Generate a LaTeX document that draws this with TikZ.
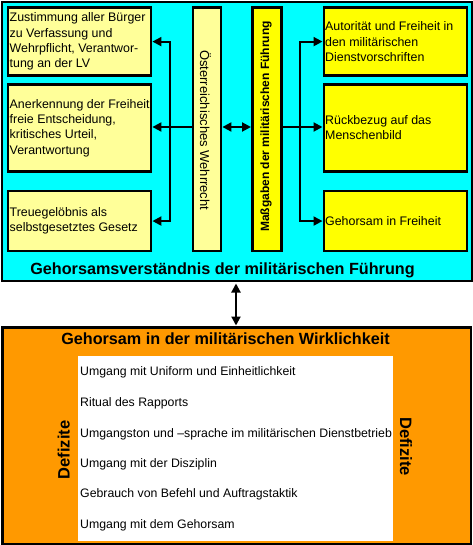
\documentclass[tikz,border=0pt]{standalone}
\usepackage{fontspec}
\setmainfont{Liberation Sans}
\usetikzlibrary{arrows.meta,calc}
\definecolor{cyanbg}{HTML}{00FFFF}
\definecolor{paleyel}{HTML}{FFFF99}
\definecolor{yel}{HTML}{FFFF00}
\definecolor{orng}{HTML}{FF9900}
\tikzset{
 panel/.style={draw=black, line width=2.2pt, inner sep=0pt, anchor=north west},
 lbox/.style={draw=black, line width=2.7pt, fill=paleyel, inner sep=0pt, anchor=north west},
 rbox/.style={lbox, fill=yel},
 btxt/.style={inner sep=0pt, anchor=west, align=left, font=\fontsize{12.4}{15.3}\selectfont},
 ttl/.style={inner sep=0pt, anchor=base, font=\fontsize{16.2}{18}\selectfont\bfseries},
 vtxt/.style={inner sep=0pt, anchor=west},
 deftxt/.style={inner sep=0pt, font=\fontsize{16.5}{18}\selectfont\bfseries},
 item/.style={inner sep=0pt, anchor=base west, font=\fontsize{12.3}{14}\selectfont},
 tip/.style={Triangle[length=9pt,width=9pt]},
 conn/.style={line width=2pt, -{Triangle[length=9pt,width=9pt]}},
 dconn/.style={line width=2pt, {Triangle[length=9pt,width=9pt]}-{Triangle[length=9pt,width=9pt]}},
 plain/.style={line width=2pt},
}
\begin{document}
\begin{tikzpicture}[x=1pt,y=-1pt]
\useasboundingbox (0,0) rectangle (472,545);
% panels
\node[panel, fill=cyanbg, minimum width=469.7pt, minimum height=278.7pt] (top) at (1,1) {};
\node[panel, fill=orng, minimum width=468.7pt, minimum height=217pt] (bot) at (1.3,326.3) {};
\node[inner sep=0pt, anchor=north west, fill=white, minimum width=315.3pt, minimum height=184.7pt] (wb) at (77.7,356) {};
% left boxes
\node[lbox, minimum width=143.2pt, minimum height=67.5pt] (l1) at (6.5,6.5) {};
\node[lbox, minimum width=143.2pt, minimum height=87pt] (l2) at (6.5,83) {};
\node[lbox, minimum width=143.2pt, minimum height=60pt] (l3) at (6.5,189.7) {};
% central columns
\node[lbox, minimum width=28.2pt, minimum height=243.2pt] (wr) at (191.5,6.5) {};
\node[rbox, minimum width=29.3pt, minimum height=243.2pt] (mg) at (251,6.5) {};
% right boxes
\node[rbox, minimum width=143.2pt, minimum height=67.5pt] (r1) at (322.5,6.5) {};
\node[rbox, minimum width=143.2pt, minimum height=87pt] (r2) at (322.5,83) {};
\node[rbox, minimum width=143.2pt, minimum height=60pt] (r3) at (322.5,189.7) {};
% box texts
\node[btxt] (l1t) at ($(l1.west)+(3,0)$) {Zustimmung aller Bürger\\zu Verfassung und\\Wehrpflicht, Verantwor-\\tung an der LV};
\begin{scope}
\clip ($(l2.north west)+(1.3,1.3)$) rectangle ($(l2.south east)+(-1.3,-1.3)$);
\node[btxt] (l2t) at ($(l2.west)+(3,0)$) {Anerkennung der Freiheit\\freie Entscheidung,\\kritisches Urteil,\\Verantwortung};
\end{scope}
\node[btxt] (l3t) at ($(l3.west)+(3,0)$) {Treuegelöbnis als\\selbstgesetztes Gesetz};
\node[btxt] (r1t) at ($(r1.west)+(2.5,0)$) {Autorität und Freiheit in\\den militärischen\\Dienstvorschriften};
\node[btxt] (r2t) at ($(r2.west)+(2.5,0)$) {Rückbezug auf das\\Menschenbild};
\node[btxt] (r3t) at ($(r3.west)+(2.5,0)$) {Gehorsam in Freiheit};
% rotated texts
\node[vtxt, rotate=-90, font=\fontsize{13}{14}\selectfont] (wrt) at (205.5,50) {Österreichisches Wehrrecht};
\node[vtxt, rotate=90, font=\fontsize{12}{14}\selectfont\bfseries] (mgt) at (266,232) {Maßgaben der militärischen Führung};
% titles
\node[ttl] (toptitle) at (222.5,274) {Gehorsamsverständnis der militärischen Führung};
\node[ttl] (bottitle) at (225.5,344) {Gehorsam in der militärischen Wirklichkeit};
% connectors left
\coordinate (jl) at (169.7,127);
\draw[conn] (wr.west |- jl) -- (l2.east |- jl);
\draw[conn] (jl) |- (l1.east);
\draw[conn] (jl) |- (l3.east);
% middle
\draw[dconn] (wr.east |- jl) -- (mg.west |- jl);
% right
\coordinate (jr) at (300.3,127);
\draw[conn] (mg.east |- jr) -- (r2.west |- jr);
\draw[conn] (jr) |- (r1.west);
\draw[conn] (jr) |- (r3.west);
% vertical double arrow
\coordinate (jv) at (236,0);
\draw[dconn, shorten <=1.6pt, shorten >=0.8pt] (top.south -| jv) -- (bot.north -| jv);
% list
\begin{scope}
\clip (wb.north west) rectangle (wb.south east);
\node[item] (i1) at (80,375.5) {Umgang mit Uniform und Einheitlichkeit};
\node[item] (i2) at (80,406.2) {Ritual des Rapports};
\node[item] (i3) at (80,437.2) {Umgangston und –sprache im militärischen Dienstbetrieb};
\node[item] (i4) at (80,467.2) {Umgang mit der Disziplin};
\node[item] (i5) at (80,497.8) {Gebrauch von Befehl und Auftragstaktik};
\node[item] (i6) at (80,528.5) {Umgang mit dem Gehorsam};
\end{scope}
% Defizite
\node[deftxt, rotate=90] (defl) at (63.7,450) {Defizite};
\node[deftxt, rotate=-90] (defr) at (406,446.7) {Defizite};
\end{tikzpicture}
\end{document}
